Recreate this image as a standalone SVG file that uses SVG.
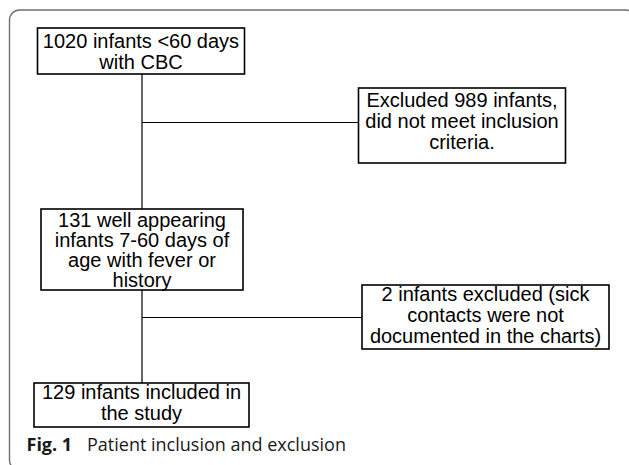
<svg xmlns="http://www.w3.org/2000/svg" width="629" height="465" viewBox="0 0 629 465">
<style>
.box{fill:#fff;stroke:#000;stroke-width:1.6}
.t{font-family:"Liberation Sans",Arial,sans-serif;font-size:20px;fill:#000;text-anchor:middle}
.c{stroke:#000;stroke-width:1.2;fill:none}
.cap{font-family:"Open Sans",sans-serif;font-size:18px;fill:#1a1a1a}
</style>
<rect x="9.5" y="10" width="626" height="460" rx="10" fill="#fff" stroke="#707070" stroke-width="1.4"/>
<g id="connectors">
<line class="c" x1="142" y1="74" x2="142" y2="209"/>
<line class="c" x1="142" y1="122.5" x2="358.5" y2="122.5" stroke="#444"/>
<line class="c" x1="142" y1="290" x2="142" y2="383"/>
<line class="c" x1="142" y1="317.5" x2="362" y2="317.5" stroke="#444"/>
</g>
<g id="n1">
<rect class="box" x="37.5" y="28" width="207" height="46"/>
<text class="t" x="141" y="48">1020 infants &lt;60 days</text>
<text class="t" x="141" y="69">with CBC</text>
</g>
<g id="n2">
<rect class="box" x="358.5" y="88" width="207" height="75"/>
<text class="t" x="462" y="107">Excluded 989 infants,</text>
<text class="t" x="462" y="128">did not meet inclusion</text>
<text class="t" x="462" y="149">criteria.</text>
</g>
<g id="n3">
<rect class="box" x="41" y="209" width="202" height="81"/>
<text class="t" x="142" y="227">131 well appearing</text>
<text class="t" x="142" y="247">infants 7-60 days of</text>
<text class="t" x="142" y="267">age with fever or</text>
<text class="t" x="142" y="287">history</text>
</g>
<g id="n4">
<rect class="box" x="362" y="285" width="247" height="64"/>
<text class="t" x="485.5" y="301">2 infants excluded (sick</text>
<text class="t" x="485.5" y="322">contacts were not</text>
<text class="t" x="485.5" y="343">documented in the charts)</text>
</g>
<g id="n5">
<rect class="box" x="34" y="383" width="215" height="44"/>
<text class="t" x="141.5" y="399">129 infants included in</text>
<text class="t" x="141.5" y="420">the study</text>
</g>
<text class="cap" x="26.5" y="451"><tspan font-weight="bold">Fig. 1</tspan><tspan x="87">Patient inclusion and exclusion</tspan></text>
</svg>
